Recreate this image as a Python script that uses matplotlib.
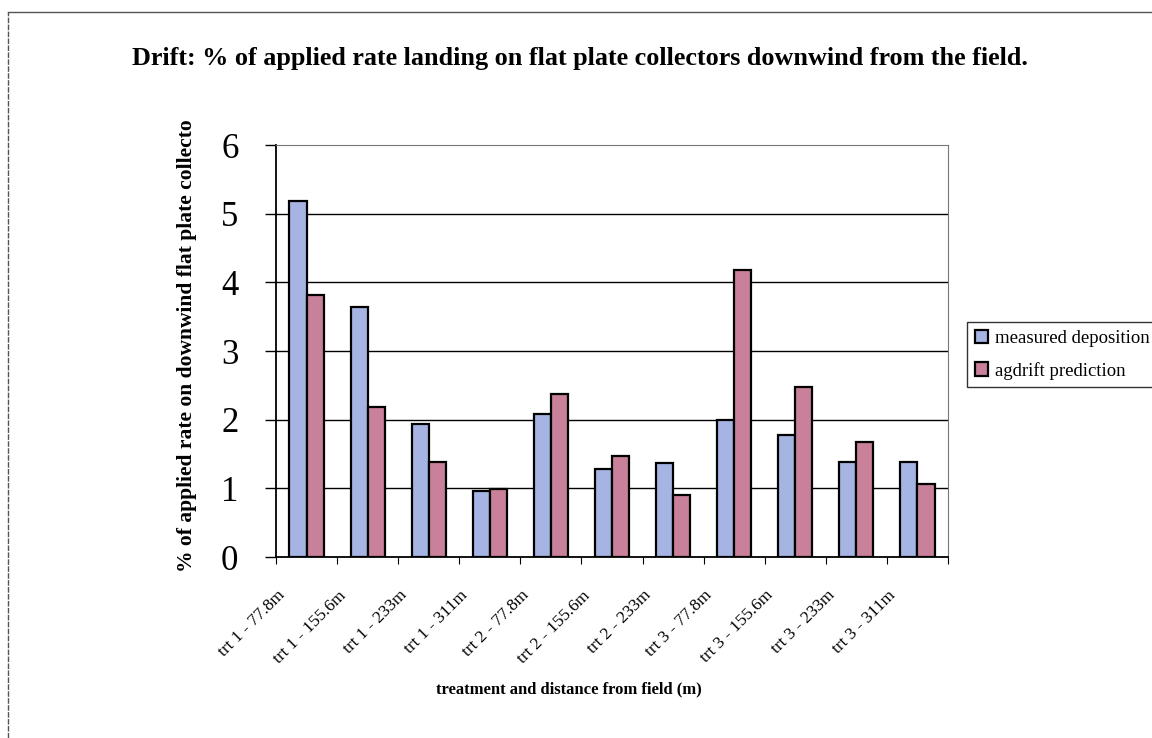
import numpy as np
import matplotlib
matplotlib.use("Agg")
import matplotlib.pyplot as plt
from matplotlib.lines import Line2D
from matplotlib.transforms import ScaledTranslation

# data
categories = ["trt 1 - 77.8m", "trt 1 - 155.6m", "trt 1 - 233m", "trt 1 - 311m",
              "trt 2 - 77.8m", "trt 2 - 155.6m", "trt 2 - 233m", "trt 3 - 77.8m",
              "trt 3 - 155.6m", "trt 3 - 233m", "trt 3 - 311m"]
measured = [5.18, 3.64, 1.93, 0.96, 2.08, 1.28, 1.37, 2.0, 1.77, 1.38, 1.38]
agdrift = [3.82, 2.18, 1.38, 0.99, 2.38, 1.47, 0.9, 4.18, 2.47, 1.67, 1.06]
series_names = ["measured deposition", "agdrift prediction"]

plt.rcParams['font.family'] = ['Liberation Serif', 'DejaVu Serif']

fig = plt.figure(figsize=(11.52, 7.38), dpi=100)
ax = fig.add_axes([276 / 1152, 1 - 557 / 738, 672 / 1152, 412 / 738])

x = np.arange(len(categories))
w = 0.28
ax.bar(x - w / 2, measured, w, color='#a6b4e4', edgecolor='black', linewidth=1.6,
       label=series_names[0], zorder=3)
ax.bar(x + w / 2, agdrift, w, color='#c9809a', edgecolor='black', linewidth=1.6,
       label=series_names[1], zorder=3)

ax.set_xlim(-0.5, len(categories) - 0.5)
ax.set_ylim(0, 6)
ax.set_yticks(range(7))
ax.tick_params(axis='y', labelsize=25, length=8, width=1, direction='out', pad=19)

# x ticks sit on the category boundaries, labels under each category
ax.set_xticks(np.arange(len(categories) + 1) - 0.5)
ax.set_xticklabels([])
ax.tick_params(axis='x', length=5, width=0.8, direction='out')
ax.set_xticks(x, minor=True)
ax.set_xticklabels(categories, minor=True, rotation=45, ha='right', va='top',
                   rotation_mode='anchor', fontsize=12.5)
ax.tick_params(axis='x', which='minor', length=0, pad=22)
shift = ScaledTranslation(-0.30, 0, fig.dpi_scale_trans)
for lab in ax.get_xticklabels(minor=True):
    lab.set_transform(lab.get_transform() + shift)

# gridlines
for v in range(1, 6):
    ax.axhline(v, color='black', linewidth=1.0, zorder=1)
ax.spines['top'].set_linestyle((0, (3, 1)))
ax.spines['top'].set_color('#777777')
ax.spines['right'].set_linestyle((0, (3, 1)))
ax.spines['right'].set_color('#777777')
ax.spines['left'].set_linewidth(1.3)
ax.spines['bottom'].set_linewidth(1.3)

ax.set_ylabel("% of applied rate on downwind flat plate collecto", fontsize=15.5,
              fontweight='bold')
ax.yaxis.set_label_coords(-(276 - 197) / 672, (557 - 346) / 412)

fig.text(580 / 1152, 1 - 58 / 738, "Drift: % of applied rate landing on flat plate collectors downwind from the field.",
         ha='center', va='center', fontsize=18.8, fontweight='bold')
fig.text(569 / 1152, 1 - 689 / 738, "treatment and distance from field (m)",
         ha='center', va='center', fontsize=12, fontweight='bold')

leg = fig.legend(loc='upper left', bbox_to_anchor=(967 / 1152, 1 - 322 / 738),
                 fontsize=13.5, frameon=True, fancybox=False, edgecolor='black',
                 handlelength=0.7, handleheight=0.7, handletextpad=0.4,
                 borderpad=0.4, labelspacing=0.8, borderaxespad=0)
leg.get_frame().set_linewidth(1.0)

# outer chart border (only top and left visible in the reference)
fig.add_artist(Line2D([8 / 1152, 1], [1 - 12 / 738, 1 - 12 / 738], color='#555555',
                      linewidth=1.0, transform=fig.transFigure))
fig.add_artist(Line2D([8 / 1152, 8 / 1152], [0, 1 - 12 / 738], color='#555555',
                      linewidth=1.0, linestyle=(0, (4, 1)), transform=fig.transFigure))

fig.savefig("out.png", dpi=100)
